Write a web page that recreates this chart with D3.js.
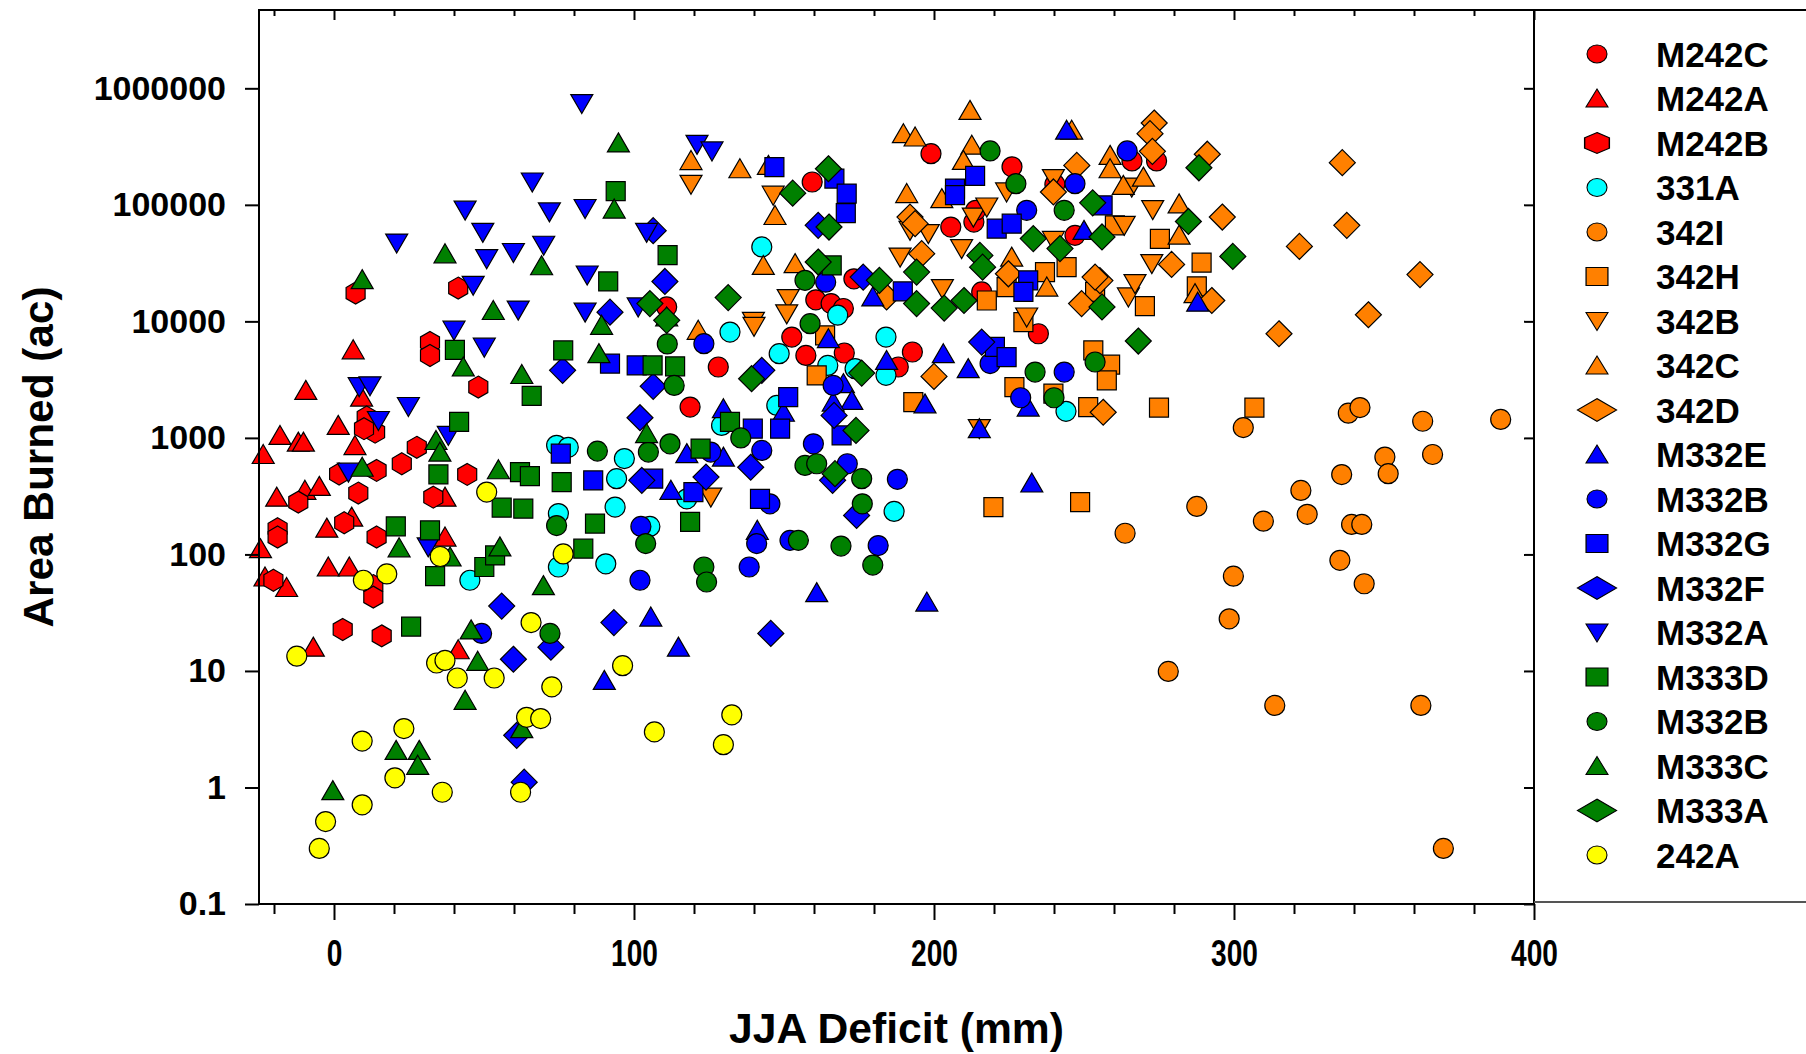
<!DOCTYPE html>
<html><head><meta charset="utf-8">
<script src="https://cdn.jsdelivr.net/npm/d3@7"></script>
<style>body{margin:0;background:#fff;} svg{display:block;}</style>
</head><body>
<svg id="chart" width="1806" height="1054"></svg>
<script>
// ---------------- DATA ----------------
const seriesNames = ["M242C","M242A","M242B","331A","342I","342H","342B","342C","342D",
  "M332E","M332B","M332G","M332F","M332A","M333D","M332B","M333C","M333A","242A"];

const xTickValues = [0,100,200,300,400];
const xTickLabels = ["0","100","200","300","400"];
const yTickValues = [0.1,1,10,100,1000,10000,100000,1000000];
const yTickLabels = ["0.1","1","10","100","1000","10000","100000","1000000"];
const xDomain = [-25,400];
const yDomain = [0.1,4.7e6];

const M242C = [[110.9,13300],[118.7,1840],[128.1,4060],[152.6,7330],[157.3,5100],[159.4,157000],[160.6,15300],[165.7,14200],[169.8,12900],[170.1,5350],[173.3,23200],[188.1,4060],[192.8,5460],[199,275000],[205.6,64500],[213.3,71200],[213.9,89800],[215.9,17900],[226,212000],[234.8,7830],[240.3,150000],[247,54700],[266,238000],[274.2,238000]];
const M242A = [[6.4,5700],[-9.4,2560],[9.2,2240],[1.4,1280],[-18,1050],[-11.9,920],[-10.2,920],[-23.6,720],[7,860],[-19.1,310],[-9.7,355],[-4.9,384],[37,310],[-2.4,168],[5.9,209],[37,141],[-24.5,112],[-23,64],[-15.8,52],[-1.9,78],[5.1,78],[-6.9,16],[41.4,15.2]];
const M242B = [[7.2,17500],[41.4,19300],[32,6600],[32,5100],[48.1,2730],[10.9,1510],[13.7,1120],[10,1200],[27.6,830],[1.7,490],[14.2,526],[22.6,600],[8.1,336],[44.4,486],[-11.9,281],[33.1,310],[-18.8,166],[-18.8,141],[3.4,187],[14.2,141],[-20.2,60],[13.1,54],[13.1,43],[2.9,22.7],[15.9,20]];
const A331 = [[45.3,60],[74.2,864],[78.1,830],[96.8,664],[94.2,447],[117.6,300],[74.8,224],[93.7,255],[105.3,174],[74.8,78],[90.6,83],[142.6,43500],[167.9,11300],[132,8100],[148.4,5280],[164.6,4190],[173.7,3930],[184,7330],[184,3440],[244,1690],[147.6,1900],[129.2,1280],[186.7,234]];
const I342 = [[298.4,28],[278.1,9.9],[313.6,5.06],[362.3,5.06],[369.8,0.3],[303.1,1225],[338.1,1630],[342,1820],[362.9,1390],[388.9,1440],[366.2,720],[350.3,685],[351.4,493],[335.9,484],[322.3,354],[324.4,221],[287.6,258],[309.8,193],[339.2,181],[342.6,181],[263.7,152],[335.3,89],[343.4,56],[299.8,65]];
const H342 = [[258.7,4250],[257.6,3120],[253.1,5640],[275,1820],[306.8,1820],[270.3,13500],[260.3,66700],[275.3,51000],[289.2,31900],[287.6,20000],[237,26500],[244.2,29200],[253.7,17900],[224.2,19700],[217.6,15100],[229.8,9870],[226.8,2730],[239.8,2400],[251.4,1840],[193.1,2030],[160.9,3440],[163.7,7590],[219.8,255],[248.7,281]];
const B342 = [[119,150000],[265.9,142000],[272.9,91000],[263.4,66700],[272.6,31300],[264.8,16200],[267,21100],[146.4,121000],[151.4,15700],[150.9,11600],[139.8,10000],[224.2,129000],[213.1,78500],[217.6,95800],[198.1,56600],[192,60400],[239.8,168000],[239.8,49500],[188.7,35600],[209.2,42100],[202.8,19100],[230.9,10900],[140,9060],[125.6,310],[215.1,1200]];
const C342 = [[119,240000],[258.7,266000],[258.7,204000],[263.1,147000],[269.8,173000],[281.7,102000],[281.7,55000],[287,17300],[135.3,204000],[144.8,218000],[147,81000],[143.1,30200],[153.7,31300],[189.8,408000],[193.7,382000],[212,647000],[212.6,325000],[245.9,437000],[209.8,241000],[202.6,113000],[190.9,125000],[225.9,35600],[237.6,19700],[121.4,8380]];
const D342 = [[273.4,504000],[272,408000],[272.8,288000],[291.1,272000],[296.1,78600],[321.8,44000],[336.1,230000],[337.6,66700],[362,25200],[344.8,11400],[315,7830],[279.2,30800],[292.6,15100],[255.3,22400],[256.4,1660],[247.6,218000],[239.8,129000],[192,78500],[193.7,68900],[195.9,38100],[224.8,25600],[253.7,24000],[249.2,14200],[184.2,16200],[200,3370]];
const E332 = [[287.9,14600],[244.2,437000],[250,60400],[179.6,16200],[164.8,7100],[169.8,2920],[172.6,2100],[166.4,2030],[184.2,4620],[203.1,5280],[211.4,3930],[231.4,1840],[197,1960],[215.1,1200],[149.8,1660],[129.8,1780],[117.6,733],[129.8,684],[112.3,355],[141.1,161],[160.9,47],[197.6,39],[232.6,410],[105.6,29],[114.8,16],[90.1,8.3]];
const B332blue = [[264.4,290000],[230.9,89800],[247,152000],[163.9,21700],[123.3,6440],[166.4,2820],[218.7,4340],[243.4,3670],[228.9,2210],[102.3,174],[102,60],[49.2,21],[142.6,780],[125.6,755],[145.3,272],[159.8,890],[171.1,600],[187.8,441],[140.9,124],[152,132],[181.4,119],[138.4,78]];
const G332 = [[146.8,211000],[166.8,168000],[170.9,125000],[170.6,85000],[213.7,177000],[207,138000],[207,121000],[220.9,62500],[225.9,68900],[256.2,99000],[231.4,22500],[229.8,17900],[189.6,18100],[220.3,6030],[224.2,4940],[92,4340],[100.9,4190],[75.6,733],[86.4,432],[106.4,447],[119.8,343],[151.4,2240],[148.7,1200],[139.6,1200],[169.2,1050],[142,300]];
const F332 = [[106.4,60000],[110.3,22000],[92,12000],[76.2,3800],[106.4,2770],[102,1490],[102.6,432],[55.9,36],[72.3,16],[93.3,26],[59.8,12.6],[60.9,2.8],[63.4,1.11],[145.6,21],[161.4,66700],[176.4,24000],[215.9,6640],[166.7,1560],[142.6,3800],[138.9,560],[124,461],[166.2,432],[174.2,216]];
const A332 = [[82.6,740000],[121,330000],[126,290000],[66.1,157000],[43.7,90000],[71.8,87000],[83.7,93000],[104.2,58000],[20.9,47000],[49.6,58000],[50.9,34500],[59.8,39000],[69.9,45000],[84.4,25000],[46.4,20400],[61.4,12500],[83.7,12000],[101.4,13300],[40,8400],[50.1,6000],[8.4,2750],[12,2800],[24.8,1860],[14.8,1410],[38.1,1050],[4.8,508],[31.4,116]];
const D333 = [[93.9,131000],[91.4,22000],[111.2,37000],[40.3,5700],[65.9,2290],[76.4,5640],[106.2,4190],[113.7,4110],[41.7,1370],[34.8,486],[62,508],[65.3,470],[55.9,252],[63.1,247],[20.6,174],[32,161],[33.7,65],[50.1,78],[53.7,98],[25.7,24],[75.9,418],[87,184],[118.7,190],[83.1,112],[165.9,30200],[132,1370],[122.2,810]];
const B332green = [[111.1,6400],[113.4,2820],[87.8,770],[104.8,755],[112,890],[74.2,177],[103.9,124],[72,21],[157,22500],[158.7,9550],[218.7,290000],[227.3,152000],[243.4,89800],[233.7,3670],[253.7,4480],[240,2210],[135.6,1000],[157,580],[160.9,600],[175.9,447],[176.1,272],[154.8,132],[169,118],[179.6,81],[123.3,78],[124.2,58]];
const C333 = [[94.8,340000],[93.4,92000],[37,38000],[69.2,30000],[9.4,22800],[53.1,12400],[110.9,10900],[89.2,9250],[43.1,4060],[62.6,3500],[88.3,5290],[34,950],[35.3,755],[104.2,1090],[9.4,560],[54.8,533],[21.7,114],[38.7,95],[55.3,116],[69.8,54],[45.7,22.5],[47.9,12.1],[43.7,5.6],[62.6,3.2],[20.7,2.08],[28.4,2.08],[27.9,1.55],[-0.4,0.94]];
const A333 = [[105.3,14200],[110.9,10200],[164.8,204000],[152.9,126000],[165,64500],[161.4,32300],[131.4,16000],[288.3,208000],[284.8,72000],[256,53000],[299.6,36100],[268.1,6780],[256,13300],[252.9,104000],[233.1,51300],[242,42100],[215.3,36800],[216.2,29200],[181.8,22500],[194.2,26500],[194.2,14200],[203.4,13000],[210,15100],[174,1160],[175.9,3600],[167,493],[139.2,3220]];
const A242 = [[50.9,343],[35.4,96],[9.8,60],[17.6,68],[76.4,101],[65.7,26],[-12.4,13.4],[34.2,11.7],[37,12.3],[41.1,8.7],[53.4,8.7],[72.6,7.3],[96.2,11.1],[64.2,4.0],[68.9,3.9],[106.8,3.0],[23.3,3.2],[9.4,2.5],[20.3,1.21],[36.1,0.91],[62.2,0.91],[9.4,0.71],[-2.8,0.51],[-4.9,0.30],[132.6,4.2],[129.8,2.33]];

const seriesData = [M242C,M242A,M242B,A331,I342,H342,B342,C342,D342,E332,B332blue,G332,F332,A332,D333,B332green,C333,A333,A242];

// ---------------- STYLE ----------------
const styles = [
  {shape:"circle", fill:"#ff0000"},
  {shape:"triUp", fill:"#ff0000"},
  {shape:"hex", fill:"#ff0000"},
  {shape:"circle", fill:"#00ffff"},
  {shape:"circle", fill:"#ff8000"},
  {shape:"square", fill:"#ff8000"},
  {shape:"triDown", fill:"#ff8000"},
  {shape:"triUp", fill:"#ff8000"},
  {shape:"diamond", fill:"#ff8000"},
  {shape:"triUp", fill:"#0000ff"},
  {shape:"circle", fill:"#0000ff"},
  {shape:"square", fill:"#0000ff"},
  {shape:"diamond", fill:"#0000ff"},
  {shape:"triDown", fill:"#0000ff"},
  {shape:"square", fill:"#008000"},
  {shape:"circle", fill:"#008000"},
  {shape:"triUp", fill:"#008000"},
  {shape:"diamond", fill:"#008000"},
  {shape:"circle", fill:"#ffff00"}
];
const shapePath = {
  circle: "M10,0A10,10 0 1,1 -10,0A10,10 0 1,1 10,0Z",
  square: "M-9.5,-9.5H9.5V9.5H-9.5Z",
  triUp: "M0,-10L11,9L-11,9Z",
  triDown: "M0,10L11,-9L-11,-9Z",
  diamond: "M0,-13L13,0L0,13L-13,0Z",
  hex: "M0,-11L9.5,-5.5L9.5,5.5L0,11L-9.5,5.5L-9.5,-5.5Z"
};
const legendScale = {circle:"scale(1.0,0.9)", square:"scale(1.15,0.95)", triUp:"scale(1.0,0.95)",
  triDown:"scale(1.0,0.95)", diamond:"scale(1.5,0.88)", hex:"scale(1.3,0.95)"};

// ---------------- DRAW ----------------
const W = 1806, H = 1054;
const P = {left:259, right:1534, top:10, bottom:904};
const x = d3.scaleLinear().domain(xDomain).range([P.left, P.right]);
const y = d3.scaleLog().domain(yDomain).range([P.bottom, P.top]);
const svg = d3.select("#chart");
svg.append("rect").attr("width", W).attr("height", H).attr("fill", "#fff");

const FONT = "'Liberation Sans', Arial, Helvetica, sans-serif";

// markers
const mg = svg.append("g");
seriesData.forEach((pts, i) => {
  const st = styles[i];
  mg.append("g").selectAll("path").data(pts).join("path")
    .attr("d", shapePath[st.shape])
    .attr("transform", d => `translate(${x(d[0])},${y(d[1])})`)
    .attr("fill", st.fill)
    .attr("stroke", "#000")
    .attr("stroke-width", 1.2);
});

function styleAxis(g){
  g.select(".domain").remove();
  g.selectAll(".tick line").attr("stroke", "#000").attr("stroke-width", 2);
}

// left axis
const gl = svg.append("g").attr("transform", `translate(${P.left},0)`)
  .call(d3.axisLeft(y).tickValues(yTickValues).tickFormat((d,i)=>yTickLabels[i])
    .tickSizeInner(14).tickSizeOuter(0).tickPadding(19));
styleAxis(gl);
gl.selectAll("text").attr("font-family", FONT).attr("font-weight", "bold")
  .attr("font-size", 34).attr("fill", "#000");

// right axis (inward ticks)
const gr = svg.append("g").attr("transform", `translate(${P.right},0)`)
  .call(d3.axisLeft(y).tickValues(yTickValues).tickFormat("").tickSizeInner(10).tickSizeOuter(0));
styleAxis(gr);

// bottom axis: minor + major
const minorX = d3.range(-20, 401, 20).filter(v => v % 100 !== 0);
const gbm = svg.append("g").attr("transform", `translate(0,${P.bottom})`)
  .call(d3.axisBottom(x).tickValues(minorX).tickFormat("").tickSizeInner(10).tickSizeOuter(0));
styleAxis(gbm);
const gb = svg.append("g").attr("transform", `translate(0,${P.bottom})`)
  .call(d3.axisBottom(x).tickValues(xTickValues).tickFormat((d,i)=>xTickLabels[i])
    .tickSizeInner(16).tickSizeOuter(0).tickPadding(20));
styleAxis(gb);
gb.selectAll("text").attr("font-family", FONT).attr("font-weight", "bold")
  .attr("font-size", 36).attr("fill", "#000")
  .each(function(){
    const w = this.getComputedTextLength();
    d3.select(this).attr("textLength", w * 0.78).attr("lengthAdjust", "spacingAndGlyphs");
  });

// top axis (inward ticks)
const gtm = svg.append("g").attr("transform", `translate(0,${P.top})`)
  .call(d3.axisBottom(x).tickValues(minorX).tickFormat("").tickSizeInner(6).tickSizeOuter(0));
styleAxis(gtm);
const gt = svg.append("g").attr("transform", `translate(0,${P.top})`)
  .call(d3.axisBottom(x).tickValues(xTickValues).tickFormat("").tickSizeInner(10).tickSizeOuter(0));
styleAxis(gt);

// frame
svg.append("rect").attr("x", P.left).attr("y", P.top)
  .attr("width", P.right - P.left).attr("height", P.bottom - P.top)
  .attr("fill", "none").attr("stroke", "#000").attr("stroke-width", 2);
// legend box lines
svg.append("line").attr("x1", P.right).attr("x2", W).attr("y1", P.top).attr("y2", P.top)
  .attr("stroke", "#000").attr("stroke-width", 2);
svg.append("line").attr("x1", P.right).attr("x2", W).attr("y1", 902).attr("y2", 902)
  .attr("stroke", "#555").attr("stroke-width", 2);

// axis titles
svg.append("text").attr("x", (P.left + P.right)/2).attr("y", 1043)
  .attr("text-anchor", "middle").attr("font-family", FONT).attr("font-weight", "bold")
  .attr("font-size", 42).attr("textLength", 335).attr("lengthAdjust", "spacingAndGlyphs")
  .text("JJA Deficit (mm)");
svg.append("text").attr("transform", `translate(53,${(P.top + P.bottom)/2}) rotate(-90)`)
  .attr("text-anchor", "middle").attr("font-family", FONT).attr("font-weight", "bold")
  .attr("font-size", 42).attr("textLength", 341).attr("lengthAdjust", "spacingAndGlyphs")
  .text("Area Burned (ac)");

// legend
const lg = svg.append("g");
seriesNames.forEach((name, i) => {
  const ly = 54 + i * 44.5;
  const st = styles[i];
  lg.append("path").attr("d", shapePath[st.shape])
    .attr("transform", `translate(1597,${ly}) ${legendScale[st.shape]}`)
    .attr("fill", st.fill).attr("stroke", "#000").attr("stroke-width", 1.1);
  lg.append("text").attr("x", 1656).attr("y", ly).attr("dy", "0.36em")
    .attr("font-family", FONT).attr("font-weight", "bold").attr("font-size", 35)
    .attr("fill", "#000").text(name);
});
</script>
</body></html>
